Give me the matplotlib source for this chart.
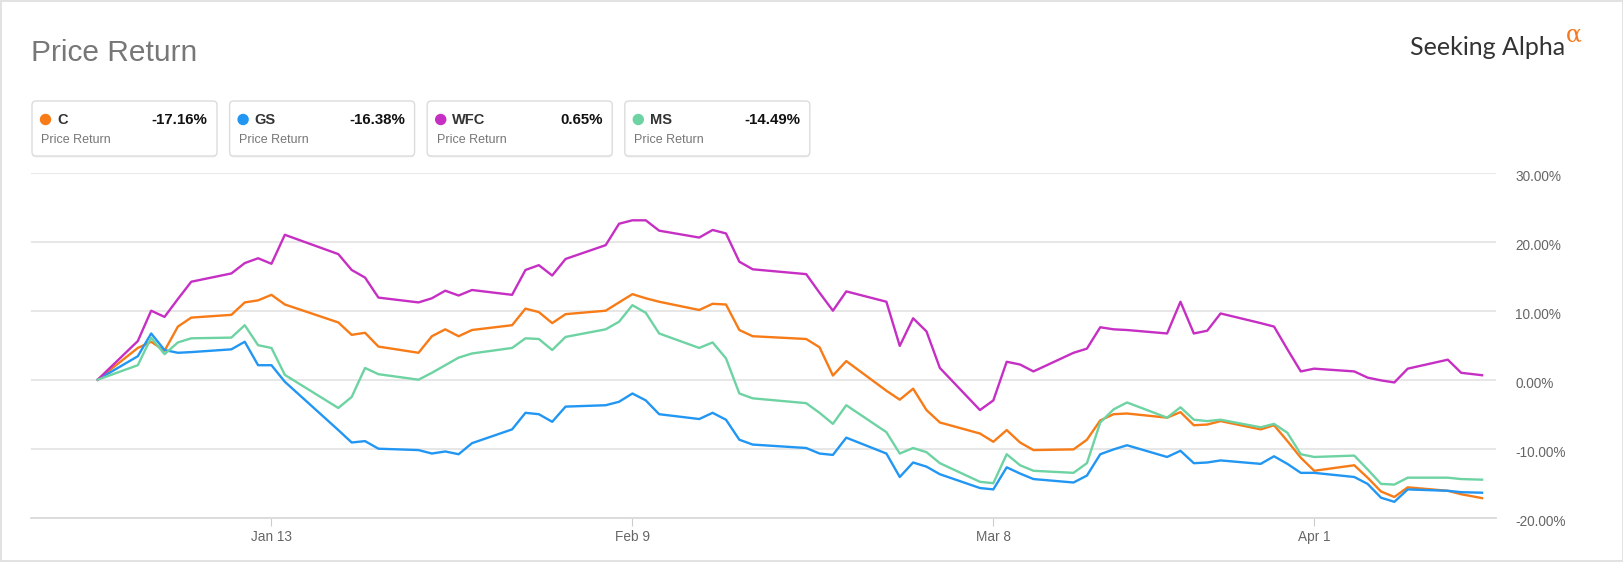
import matplotlib
matplotlib.use('Agg')
import matplotlib.pyplot as plt
import matplotlib.transforms as mtrans
from matplotlib.patches import FancyBboxPatch, Circle, Rectangle
import pandas as pd

# ---------------- data ----------------
dates = [
    '2021-12-31',
    '2022-01-03', '2022-01-04', '2022-01-05', '2022-01-06', '2022-01-07',
    '2022-01-10', '2022-01-11', '2022-01-12', '2022-01-13', '2022-01-14',
    '2022-01-18', '2022-01-19', '2022-01-20', '2022-01-21',
    '2022-01-24', '2022-01-25', '2022-01-26', '2022-01-27', '2022-01-28',
    '2022-01-31', '2022-02-01', '2022-02-02', '2022-02-03', '2022-02-04',
    '2022-02-07', '2022-02-08', '2022-02-09', '2022-02-10', '2022-02-11',
    '2022-02-14', '2022-02-15', '2022-02-16', '2022-02-17', '2022-02-18',
    '2022-02-22', '2022-02-23', '2022-02-24', '2022-02-25',
    '2022-02-28', '2022-03-01', '2022-03-02', '2022-03-03', '2022-03-04',
    '2022-03-07', '2022-03-08', '2022-03-09', '2022-03-10', '2022-03-11',
    '2022-03-14', '2022-03-15', '2022-03-16', '2022-03-17', '2022-03-18',
    '2022-03-21', '2022-03-22', '2022-03-23', '2022-03-24', '2022-03-25',
    '2022-03-28', '2022-03-29', '2022-03-30', '2022-03-31', '2022-04-01',
    '2022-04-04', '2022-04-05', '2022-04-06', '2022-04-07', '2022-04-08',
    '2022-04-11', '2022-04-12', '2022-04-13 13:30',
]

c_vals = [0,
          4.6, 5.5, 4.2, 7.7, 9.0,
          9.4, 11.2, 11.5, 12.3, 10.9,
          8.3, 6.5, 6.8, 4.8,
          3.9, 6.3, 7.3, 6.3, 7.2,
          7.9, 10.3, 9.8, 8.2, 9.5,
          10.0, 11.2, 12.4, 11.8, 11.3,
          10.1, 11.0, 10.9, 7.2, 6.3,
          5.9, 4.7, 0.6, 2.7,
          -1.6, -2.9, -1.3, -4.4, -6.2,
          -7.8, -9.0, -7.3, -9.1, -10.2,
          -10.1, -8.7, -5.9, -5.0, -4.9,
          -5.5, -4.7, -6.6, -6.5, -6.0,
          -7.2, -6.6, -8.9, -11.3, -13.2,
          -12.4, -14.2, -16.2, -17.0, -15.6,
          -16.1, -16.6, -17.16]

gs_vals = [0,
           3.4, 6.7, 4.3, 3.9, 4.0,
           4.4, 5.5, 2.1, 2.1, -0.3,
           -7.3, -9.1, -8.9, -10.0,
           -10.2, -10.7, -10.4, -10.8, -9.2,
           -7.2, -4.8, -5.0, -6.1, -3.9,
           -3.7, -3.2, -2.0, -3.0, -5.0,
           -5.7, -4.8, -5.8, -8.7, -9.4,
           -9.9, -10.7, -10.9, -8.4,
           -10.7, -14.1, -12.0, -12.6, -13.7,
           -15.7, -15.9, -12.7, -13.6, -14.4,
           -14.9, -13.9, -10.8, -10.1, -9.5,
           -11.2, -10.3, -12.1, -12.0, -11.7,
           -12.2, -11.1, -12.2, -13.5, -13.5,
           -14.1, -15.1, -17.1, -17.7, -15.9,
           -16.1, -16.3, -16.38]

wfc_vals = [0,
            5.6, 10.0, 9.1, 11.7, 14.2,
            15.4, 16.9, 17.6, 16.8, 21.0,
            18.2, 15.9, 14.8, 11.9,
            11.2, 11.8, 12.9, 12.2, 13.0,
            12.3, 15.9, 16.6, 15.1, 17.5,
            19.5, 22.6, 23.1, 23.1, 21.6,
            20.6, 21.7, 21.2, 17.1, 16.0,
            15.3, 12.6, 10.0, 12.8,
            11.3, 4.9, 8.9, 7.0, 1.7,
            -4.4, -3.0, 2.6, 2.2, 1.2,
            3.9, 4.5, 7.6, 7.3, 7.2,
            6.7, 11.3, 6.7, 7.1, 9.6,
            8.2, 7.7, 4.4, 1.2, 1.6,
            1.2, 0.3, -0.1, -0.4, 1.6,
            2.9, 1.0, 0.65]

ms_vals = [0,
           2.1, 6.1, 3.7, 5.4, 6.0,
           6.1, 7.9, 5.0, 4.6, 0.7,
           -4.1, -2.5, 1.7, 0.8,
           0.0, 1.0, 2.1, 3.2, 3.8,
           4.6, 6.0, 5.9, 4.3, 6.2,
           7.3, 8.4, 10.8, 9.7, 6.7,
           4.6, 5.4, 3.1, -2.0, -2.7,
           -3.4, -4.8, -6.4, -3.7,
           -7.6, -10.7, -9.9, -10.5, -12.1,
           -14.8, -15.0, -10.8, -12.4, -13.2,
           -13.5, -12.1, -6.2, -4.3, -3.3,
           -5.5, -4.0, -5.8, -6.0, -5.8,
           -6.9, -6.4, -7.7, -10.8, -11.2,
           -11.0, -13.0, -15.1, -15.2, -14.2,
           -14.2, -14.4, -14.49]

tickers = ['C', 'GS', 'WFC', 'MS']
series_colors = ['#f77b16', '#2196f3', '#c62fc3', '#6dd3a2']
tick_dates = ['2022-01-13', '2022-02-09', '2022-03-08', '2022-04-01']
tick_labels = ['Jan 13', 'Feb 9', 'Mar 8', 'Apr 1']
y_ticks = [-20, -10, 0, 10, 20, 30]

# ---------------- figure ----------------
W, H = 1624, 562
FONT = ['Liberation Sans', 'DejaVu Sans']
plt.rcParams['font.family'] = FONT
fig = plt.figure(figsize=(W / 100, H / 100), dpi=100)
fig.patch.set_facecolor('white')

x = pd.to_datetime(dates, format='ISO8601')
series = [c_vals, gs_vals, wfc_vals, ms_vals]

ax_left, ax_right, ax_top, ax_bot = 31, 1496, 172.7, 517.7
ax = fig.add_axes([ax_left / W, 1 - ax_bot / H, (ax_right - ax_left) / W, (ax_bot - ax_top) / H])
for vals, col in zip(series, series_colors):
    ax.plot(x, vals, color=col, lw=1.7, solid_joinstyle='round', zorder=3)

ax.set_ylim(-20, 30)
ax.set_xlim(pd.Timestamp('2021-12-26 00:15'), pd.Timestamp('2022-04-14 14:30'))
ax.set_yticks(y_ticks)
ax.set_yticklabels([f'{v:.2f}%' for v in y_ticks])
ax.yaxis.tick_right()
ax.tick_params(axis='y', length=0, pad=14, labelsize=9.8, labelcolor='#666666')
ax.set_xticks(pd.to_datetime(tick_dates))
ax.set_xticklabels(tick_labels)
ax.tick_params(axis='x', length=6, width=0.8, color='#cccccc', pad=3,
               labelsize=9.8, labelcolor='#666666')
ax.grid(axis='y', color='#e3e3e3', lw=1.2, zorder=0)
for s in ['top', 'left', 'right']:
    ax.spines[s].set_visible(False)
ax.spines['bottom'].set_color('#dadada')
ax.spines['bottom'].set_linewidth(1.3)
off = mtrans.ScaledTranslation(0, -2.5 / 100, fig.dpi_scale_trans)
for lbl in ax.get_yticklabels():
    lbl.set_transform(lbl.get_transform() + off)

# ---------------- overlay (pixel coords) ----------------
ov = fig.add_axes([0, 0, 1, 1], zorder=5)
ov.set_xlim(0, W)
ov.set_ylim(H, 0)
ov.axis('off')

ov.add_patch(Rectangle((0.5, 0.5), W - 1.5, H - 1.5, fill=False, ec='#dddddd', lw=1.2))

ov.text(31, 61, 'Price Return', fontsize=21.5, color='#777777', va='baseline', ha='left')
ov.text(1565, 55, 'Seeking Alpha', fontsize=18, color='#333333', va='baseline', ha='right',
        family=['Lato', 'DejaVu Sans'])
ov.text(1566, 42, 'α', fontsize=17, color='#f27b21', va='baseline', ha='left',
        family=['DejaVu Serif'])

box_w, box_h, box_gap = 185, 55, 197.6
for i, (tk, col, vals) in enumerate(zip(tickers, series_colors, series)):
    x0 = 32 + i * box_gap
    y0 = 101
    ov.add_patch(FancyBboxPatch((x0, y0 + 1.5), box_w, box_h, boxstyle='round,pad=0,rounding_size=4',
                                fc='#f0f0f0', ec='none', zorder=1))
    ov.add_patch(FancyBboxPatch((x0, y0), box_w, box_h, boxstyle='round,pad=0,rounding_size=4',
                                fc='white', ec='#dcdcdc', lw=1.0, zorder=2))
    ov.add_patch(Circle((x0 + 13.5, y0 + 18.5), 5, color=col, zorder=3))
    ov.text(x0 + 25, y0 + 18.5, tk, fontsize=10.5, fontweight='bold', color='#333333',
            va='center', ha='left', zorder=4)
    ov.text(x0 + 175.5, y0 + 18.5, f'{vals[-1]:.2f}%', fontsize=10.8, fontweight='bold',
            color='#111111', va='center', ha='right', zorder=4)
    ov.text(x0 + 9.5, y0 + 39, 'Price Return', fontsize=9, color='#777777',
            va='center', ha='left', zorder=4)

fig.savefig('out.png', dpi=100, facecolor='white')
